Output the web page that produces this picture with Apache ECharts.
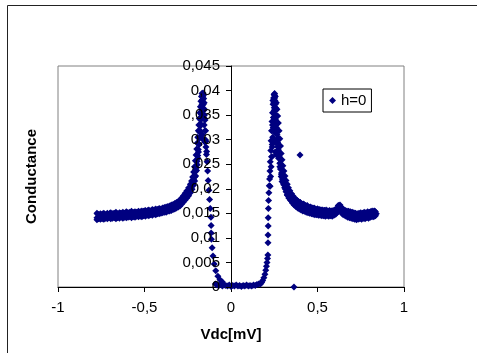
<!DOCTYPE html>
<html>
<head>
<meta charset="utf-8">
<script src="https://cdn.jsdelivr.net/npm/echarts@6/dist/echarts.min.js"></script>
<style>
html,body{margin:0;padding:0;background:#fff;}
#chart{width:477px;height:353px;}
</style>
</head>
<body>
<div id="chart"></div>
<script>
// ---- Data (Vdc in mV, conductance) ----
const seriesName = 'h=0';
const xTicks = [-1, -0.5, 0, 0.5, 1];
const yTicks = [0, 0.005, 0.01, 0.015, 0.02, 0.025, 0.03, 0.035, 0.04, 0.045];

// negative-bias shoulder and rise to the left coherence peak (middle of the band)
const leftShoulderV = [-0.775,-0.770,-0.765,-0.760,-0.750,-0.740,-0.730,-0.720,-0.710,-0.700,-0.690,-0.680,-0.670,-0.660,-0.650,-0.640,-0.630,-0.620,-0.610,-0.600,-0.590,-0.580,-0.570,-0.560,-0.550,-0.540,-0.530,-0.520,-0.510,-0.500,-0.490,-0.480,-0.470,-0.460,-0.450,-0.440,-0.430,-0.420,-0.410,-0.400,-0.390,-0.380,-0.370,-0.360,-0.350,-0.340,-0.330,-0.320,-0.310,-0.300,-0.290,-0.280,-0.270,-0.260,-0.250,-0.240,-0.230,-0.225,-0.220,-0.215,-0.210,-0.205,-0.200,-0.196,-0.192,-0.189,-0.186,-0.183,-0.180,-0.177,-0.175,-0.172,-0.170,-0.168,-0.166,-0.164,-0.162,-0.160,-0.158];
const leftShoulderG = [0.0141,0.0148,0.0139,0.0146,0.0142,0.0149,0.0143,0.0147,0.0141,0.0150,0.0144,0.0149,0.0143,0.0148,0.0145,0.0150,0.0144,0.0149,0.0146,0.0151,0.0145,0.0150,0.0147,0.0152,0.0146,0.0151,0.0148,0.0153,0.0147,0.0155,0.0149,0.0156,0.0150,0.0155,0.0151,0.0157,0.0152,0.0158,0.0153,0.0159,0.0154,0.0160,0.0156,0.0162,0.0158,0.0164,0.0160,0.0167,0.0164,0.0171,0.0170,0.0177,0.0178,0.0185,0.0188,0.0195,0.0199,0.0206,0.0210,0.0218,0.0224,0.0235,0.0243,0.0256,0.0268,0.0280,0.0291,0.0303,0.0315,0.0328,0.0340,0.0352,0.0362,0.0372,0.0381,0.0389,0.0395,0.0392,0.0384];

// upper and lower edges of the negative-bias band
const leftUpperV = [-0.775,-0.765,-0.755,-0.745,-0.735,-0.725,-0.715,-0.705,-0.695,-0.685,-0.675,-0.665,-0.655,-0.645,-0.635,-0.625,-0.615,-0.605,-0.595,-0.585,-0.575,-0.565,-0.555,-0.545,-0.535,-0.525,-0.515,-0.505,-0.495,-0.485,-0.475,-0.465,-0.455,-0.445,-0.435,-0.425,-0.415,-0.405,-0.395,-0.385,-0.375,-0.365,-0.355,-0.345,-0.335,-0.325,-0.315,-0.305,-0.295,-0.285,-0.275,-0.265,-0.255,-0.245,-0.235,-0.228,-0.222,-0.216,-0.211,-0.206,-0.202,-0.198,-0.195,-0.192,-0.189,-0.186,-0.183,-0.180,-0.177,-0.174,-0.171,-0.168];
const leftUpperG = [0.0150,0.0147,0.0149,0.0148,0.0150,0.0147,0.0150,0.0148,0.0151,0.0149,0.0150,0.0152,0.0149,0.0151,0.0150,0.0152,0.0150,0.0153,0.0151,0.0152,0.0154,0.0151,0.0153,0.0152,0.0154,0.0153,0.0155,0.0154,0.0156,0.0155,0.0157,0.0155,0.0158,0.0157,0.0159,0.0158,0.0160,0.0159,0.0161,0.0162,0.0163,0.0164,0.0165,0.0167,0.0168,0.0170,0.0172,0.0174,0.0177,0.0181,0.0186,0.0191,0.0196,0.0202,0.0209,0.0216,0.0224,0.0234,0.0245,0.0257,0.0269,0.0281,0.0293,0.0305,0.0318,0.0330,0.0343,0.0355,0.0367,0.0378,0.0388,0.0394];
const leftLowerV = [-0.775,-0.765,-0.755,-0.745,-0.735,-0.725,-0.715,-0.705,-0.695,-0.685,-0.675,-0.665,-0.655,-0.645,-0.635,-0.625,-0.615,-0.605,-0.595,-0.585,-0.575,-0.565,-0.555,-0.545,-0.535,-0.525,-0.515,-0.505,-0.495,-0.485,-0.475,-0.465,-0.455,-0.445,-0.435,-0.425,-0.415,-0.405,-0.395,-0.385,-0.375,-0.365,-0.355,-0.345,-0.335,-0.325,-0.315,-0.305,-0.295,-0.285,-0.275,-0.265,-0.255,-0.245,-0.235,-0.225,-0.217,-0.210,-0.204,-0.199,-0.195,-0.191,-0.188,-0.184,-0.181,-0.178,-0.175,-0.172,-0.169,-0.166,-0.163,-0.160];
const leftLowerG = [0.0137,0.0140,0.0138,0.0139,0.0138,0.0140,0.0139,0.0141,0.0139,0.0140,0.0141,0.0139,0.0141,0.0140,0.0142,0.0140,0.0142,0.0141,0.0142,0.0143,0.0141,0.0143,0.0142,0.0144,0.0143,0.0144,0.0143,0.0145,0.0144,0.0146,0.0145,0.0147,0.0146,0.0148,0.0147,0.0149,0.0149,0.0150,0.0151,0.0152,0.0152,0.0154,0.0155,0.0156,0.0158,0.0159,0.0161,0.0163,0.0165,0.0169,0.0173,0.0177,0.0181,0.0186,0.0192,0.0199,0.0207,0.0216,0.0226,0.0237,0.0249,0.0262,0.0275,0.0290,0.0304,0.0318,0.0332,0.0346,0.0358,0.0370,0.0382,0.0390];

// fill of the left peak
const leftPeakFillV = [-0.165,-0.160,-0.155,-0.150,-0.158,-0.152,-0.157,-0.155,-0.153,-0.163,-0.160,-0.148,-0.145,-0.142];
const leftPeakFillG = [0.0310,0.0300,0.0330,0.0318,0.0345,0.0295,0.0360,0.0375,0.0350,0.0365,0.0372,0.0300,0.0285,0.0270];

// steep drop into the gap (negative side)
const leftEdgeV = [-0.154,-0.150,-0.147,-0.144,-0.141,-0.138,-0.135,-0.132,-0.128,-0.124,-0.120,-0.116,-0.115,-0.115,-0.113,-0.109,-0.104,-0.097,-0.088,-0.076,-0.064,-0.050];
const leftEdgeG = [0.0362,0.0340,0.0318,0.0297,0.0276,0.0255,0.0236,0.0217,0.0197,0.0178,0.0160,0.0142,0.0125,0.0110,0.0097,0.0080,0.0063,0.0047,0.0033,0.0022,0.0015,0.0010];

// gap floor
const gapFloorV = [-0.090,-0.080,-0.070,-0.060,-0.050,-0.040,-0.030,-0.020,-0.010,0.000,0.010,0.020,0.030,0.040,0.050,0.060,0.070,0.080,0.090,0.100,0.110,0.120,0.130,0.140,0.150,0.160];
const gapFloorG = [0.0006,0.0004,0.0003,0.0005,0.0002,0.0004,0.0003,0.0002,0.0004,0.0001,0.0003,0.0002,0.0004,0.0002,0.0003,0.0001,0.0003,0.0002,0.0004,0.0002,0.0003,0.0002,0.0004,0.0003,0.0005,0.0006];

// rise to the right coherence peak
const rightEdgeV = [0.170,0.177,0.183,0.190,0.196,0.201,0.205,0.208,0.211,0.213,0.214,0.214,0.215,0.215,0.216,0.217,0.219,0.221,0.223,0.225,0.227,0.230,0.232,0.234,0.237,0.240,0.243,0.246,0.249,0.252,0.254];
const rightEdgeG = [0.0006,0.0009,0.0013,0.0019,0.0026,0.0034,0.0042,0.0050,0.0058,0.0065,0.0090,0.0106,0.0124,0.0141,0.0160,0.0176,0.0192,0.0206,0.0220,0.0236,0.0255,0.0278,0.0298,0.0318,0.0337,0.0355,0.0372,0.0385,0.0392,0.0390,0.0380];
const rightEdge2V = [0.226,0.229,0.232,0.235,0.238,0.241,0.244,0.247,0.250,0.253,0.256,0.252];
const rightEdge2G = [0.0205,0.0225,0.0245,0.0265,0.0285,0.0305,0.0325,0.0345,0.0365,0.0378,0.0388,0.0394];

// fill of the right peak
const rightPeakFillV = [0.240,0.245,0.250,0.255,0.245,0.250,0.255,0.260,0.258,0.265,0.270,0.255,0.262,0.268,0.275,0.282,0.290,0.295,0.242,0.248,0.252,0.258,0.238,0.236];
const rightPeakFillG = [0.0330,0.0345,0.0360,0.0350,0.0300,0.0315,0.0330,0.0318,0.0295,0.0300,0.0285,0.0275,0.0270,0.0268,0.0262,0.0245,0.0225,0.0215,0.0380,0.0375,0.0385,0.0365,0.0290,0.0265];

// decay toward the normal-state background (positive side, middle of the band)
const rightShoulderV = [0.256,0.259,0.262,0.265,0.268,0.271,0.274,0.277,0.280,0.284,0.288,0.292,0.296,0.300,0.305,0.310,0.315,0.320,0.325,0.330,0.335,0.340,0.345,0.350,0.355,0.360,0.370,0.380,0.390,0.400,0.410,0.420,0.430,0.440,0.450,0.460,0.470,0.480,0.490,0.500,0.510,0.520,0.530,0.540,0.550,0.560,0.570,0.580,0.590,0.600,0.610,0.620,0.625,0.630,0.640,0.650,0.660,0.670,0.680,0.690,0.700,0.710,0.720,0.730,0.740,0.750,0.760,0.770,0.780,0.790,0.800,0.810,0.820,0.830,0.835,0.840];
const rightShoulderG = [0.0372,0.0360,0.0348,0.0335,0.0318,0.0303,0.0288,0.0275,0.0263,0.0252,0.0241,0.0232,0.0224,0.0221,0.0208,0.0212,0.0199,0.0200,0.0188,0.0193,0.0181,0.0188,0.0177,0.0184,0.0173,0.0180,0.0170,0.0176,0.0166,0.0172,0.0163,0.0169,0.0159,0.0166,0.0157,0.0163,0.0154,0.0161,0.0152,0.0159,0.0151,0.0157,0.0149,0.0156,0.0148,0.0155,0.0147,0.0154,0.0148,0.0156,0.0152,0.0162,0.0166,0.0160,0.0157,0.0150,0.0155,0.0146,0.0153,0.0145,0.0151,0.0143,0.0149,0.0141,0.0148,0.0143,0.0149,0.0142,0.0150,0.0144,0.0151,0.0145,0.0152,0.0147,0.0153,0.0149];

// upper and lower edges of the positive-bias band
const rightUpperV = [0.262,0.266,0.270,0.274,0.278,0.282,0.286,0.290,0.295,0.300,0.306,0.312,0.318,0.325,0.332,0.340,0.350,0.360,0.370,0.380,0.390,0.400,0.410,0.420,0.430,0.440,0.450,0.460,0.470,0.480,0.490,0.500,0.510,0.520,0.530,0.540,0.550,0.560,0.570,0.580,0.590,0.600,0.610,0.620,0.630,0.640,0.650,0.660,0.670,0.680,0.690,0.700,0.710,0.720,0.730,0.740,0.750,0.760,0.770,0.780,0.790,0.800,0.810,0.820,0.830];
const rightUpperG = [0.0375,0.0362,0.0348,0.0334,0.0318,0.0302,0.0287,0.0272,0.0259,0.0247,0.0236,0.0226,0.0217,0.0209,0.0202,0.0196,0.0190,0.0185,0.0180,0.0177,0.0174,0.0172,0.0169,0.0168,0.0166,0.0165,0.0163,0.0162,0.0161,0.0160,0.0159,0.0159,0.0158,0.0157,0.0157,0.0156,0.0157,0.0155,0.0156,0.0155,0.0156,0.0157,0.0160,0.0166,0.0167,0.0162,0.0158,0.0156,0.0155,0.0154,0.0153,0.0152,0.0151,0.0150,0.0149,0.0150,0.0151,0.0150,0.0152,0.0151,0.0153,0.0152,0.0154,0.0155,0.0155];
const rightLowerV = [0.258,0.262,0.266,0.270,0.274,0.278,0.282,0.287,0.292,0.298,0.304,0.310,0.318,0.326,0.335,0.345,0.355,0.365,0.375,0.385,0.395,0.405,0.415,0.425,0.435,0.445,0.455,0.465,0.475,0.485,0.495,0.505,0.515,0.525,0.535,0.545,0.555,0.565,0.575,0.585,0.595,0.605,0.615,0.625,0.635,0.645,0.655,0.665,0.675,0.685,0.695,0.705,0.715,0.725,0.735,0.745,0.755,0.765,0.775,0.785,0.795,0.805,0.815,0.825,0.835];
const rightLowerG = [0.0340,0.0325,0.0310,0.0294,0.0279,0.0265,0.0252,0.0240,0.0229,0.0219,0.0210,0.0202,0.0194,0.0187,0.0181,0.0176,0.0171,0.0167,0.0164,0.0161,0.0159,0.0157,0.0155,0.0154,0.0152,0.0151,0.0150,0.0149,0.0148,0.0147,0.0147,0.0146,0.0146,0.0145,0.0145,0.0144,0.0145,0.0144,0.0145,0.0144,0.0146,0.0148,0.0152,0.0156,0.0153,0.0148,0.0146,0.0144,0.0142,0.0141,0.0140,0.0139,0.0138,0.0137,0.0138,0.0139,0.0138,0.0140,0.0139,0.0141,0.0140,0.0142,0.0143,0.0143,0.0145];

// isolated points
const outlierV = [0.399, 0.364];
const outlierG = [0.0269, 0.0];

function pairs(v, g) { return v.map((x, i) => [x, g[i]]); }
const points = [].concat(
  pairs(leftShoulderV, leftShoulderG),
  pairs(leftUpperV, leftUpperG),
  pairs(leftLowerV, leftLowerG),
  pairs(leftPeakFillV, leftPeakFillG),
  pairs(leftEdgeV, leftEdgeG),
  pairs(gapFloorV, gapFloorG),
  pairs(rightEdgeV, rightEdgeG),
  pairs(rightEdge2V, rightEdge2G),
  pairs(rightPeakFillV, rightPeakFillG),
  pairs(rightShoulderV, rightShoulderG),
  pairs(rightUpperV, rightUpperG),
  pairs(rightLowerV, rightLowerG),
  pairs(outlierV, outlierG)
);

const FONT = '"Liberation Sans", Arial, sans-serif';
const comma = v => String(+(+v).toFixed(4)).replace('.', ',');

const GRID_W = 346;
const xMin = xTicks[0], xMax = xTicks[xTicks.length - 1];
// place the vertical axis (with its labels) at Vdc = 0, as in the reference
const yAxisOffset = -((0 - xMin) / (xMax - xMin)) * GRID_W;

const chart = echarts.init(document.getElementById('chart'), null, {renderer: 'canvas'});
chart.setOption({
  animation: false,
  backgroundColor: '#fff',
  textStyle: {fontFamily: FONT},
  graphic: [{
    type: 'rect', silent: true, z: -10,
    shape: {x: 7.5, y: 5.5, width: 520, height: 400},
    style: {fill: 'none', stroke: '#222', lineWidth: 1}
  }],
  grid: {
    left: 58, top: 66, width: GRID_W, height: 221,
    containLabel: false, outerBoundsMode: 'none',
    show: true, borderColor: '#808080', borderWidth: 1, backgroundColor: 'transparent'
  },
  legend: {
    data: [seriesName],
    left: 323, top: 89,
    orient: 'vertical',
    icon: 'diamond',
    itemWidth: 7, itemHeight: 7,
    padding: [4, 5, 4, 6],
    borderColor: '#000', borderWidth: 1,
    backgroundColor: '#fff',
    textStyle: {fontFamily: FONT, fontSize: 15, color: '#000'}
  },
  xAxis: {
    type: 'value',
    position: 'bottom',
    min: xMin, max: xMax, interval: 0.5,
    name: 'Vdc[mV]', nameLocation: 'middle', nameGap: 40,
    nameTextStyle: {fontFamily: FONT, fontSize: 15, fontWeight: 'bold', color: '#000'},
    axisLine: {onZero: false, lineStyle: {color: '#000', width: 1}},
    axisTick: {show: true, inside: false, length: 5, lineStyle: {color: '#000'}},
    axisLabel: {fontFamily: FONT, fontSize: 15, color: '#000', margin: 13, formatter: comma,
                showMinLabel: true, showMaxLabel: true, hideOverlap: false},
    splitLine: {show: false}
  },
  yAxis: {
    type: 'value',
    position: 'left',
    offset: yAxisOffset,
    zlevel: 1,
    min: yTicks[0], max: yTicks[yTicks.length - 1], interval: 0.005,
    name: 'Conductance', nameLocation: 'middle', nameGap: 192,
    nameTextStyle: {fontFamily: FONT, fontSize: 15, fontWeight: 'bold', color: '#000'},
    axisLine: {onZero: false, lineStyle: {color: '#000', width: 1}},
    axisTick: {show: true, inside: false, length: 5, lineStyle: {color: '#000'}},
    axisLabel: {fontFamily: FONT, fontSize: 15, color: '#000', margin: 11, formatter: comma,
                showMinLabel: true, showMaxLabel: true, hideOverlap: false},
    splitLine: {show: false}
  },
  series: [{
    name: seriesName,
    type: 'scatter',
    symbol: 'diamond',
    symbolSize: 7,
    itemStyle: {color: '#000080', opacity: 1},
    data: points,
    z: 3
  }]
});
</script>
</body>
</html>
